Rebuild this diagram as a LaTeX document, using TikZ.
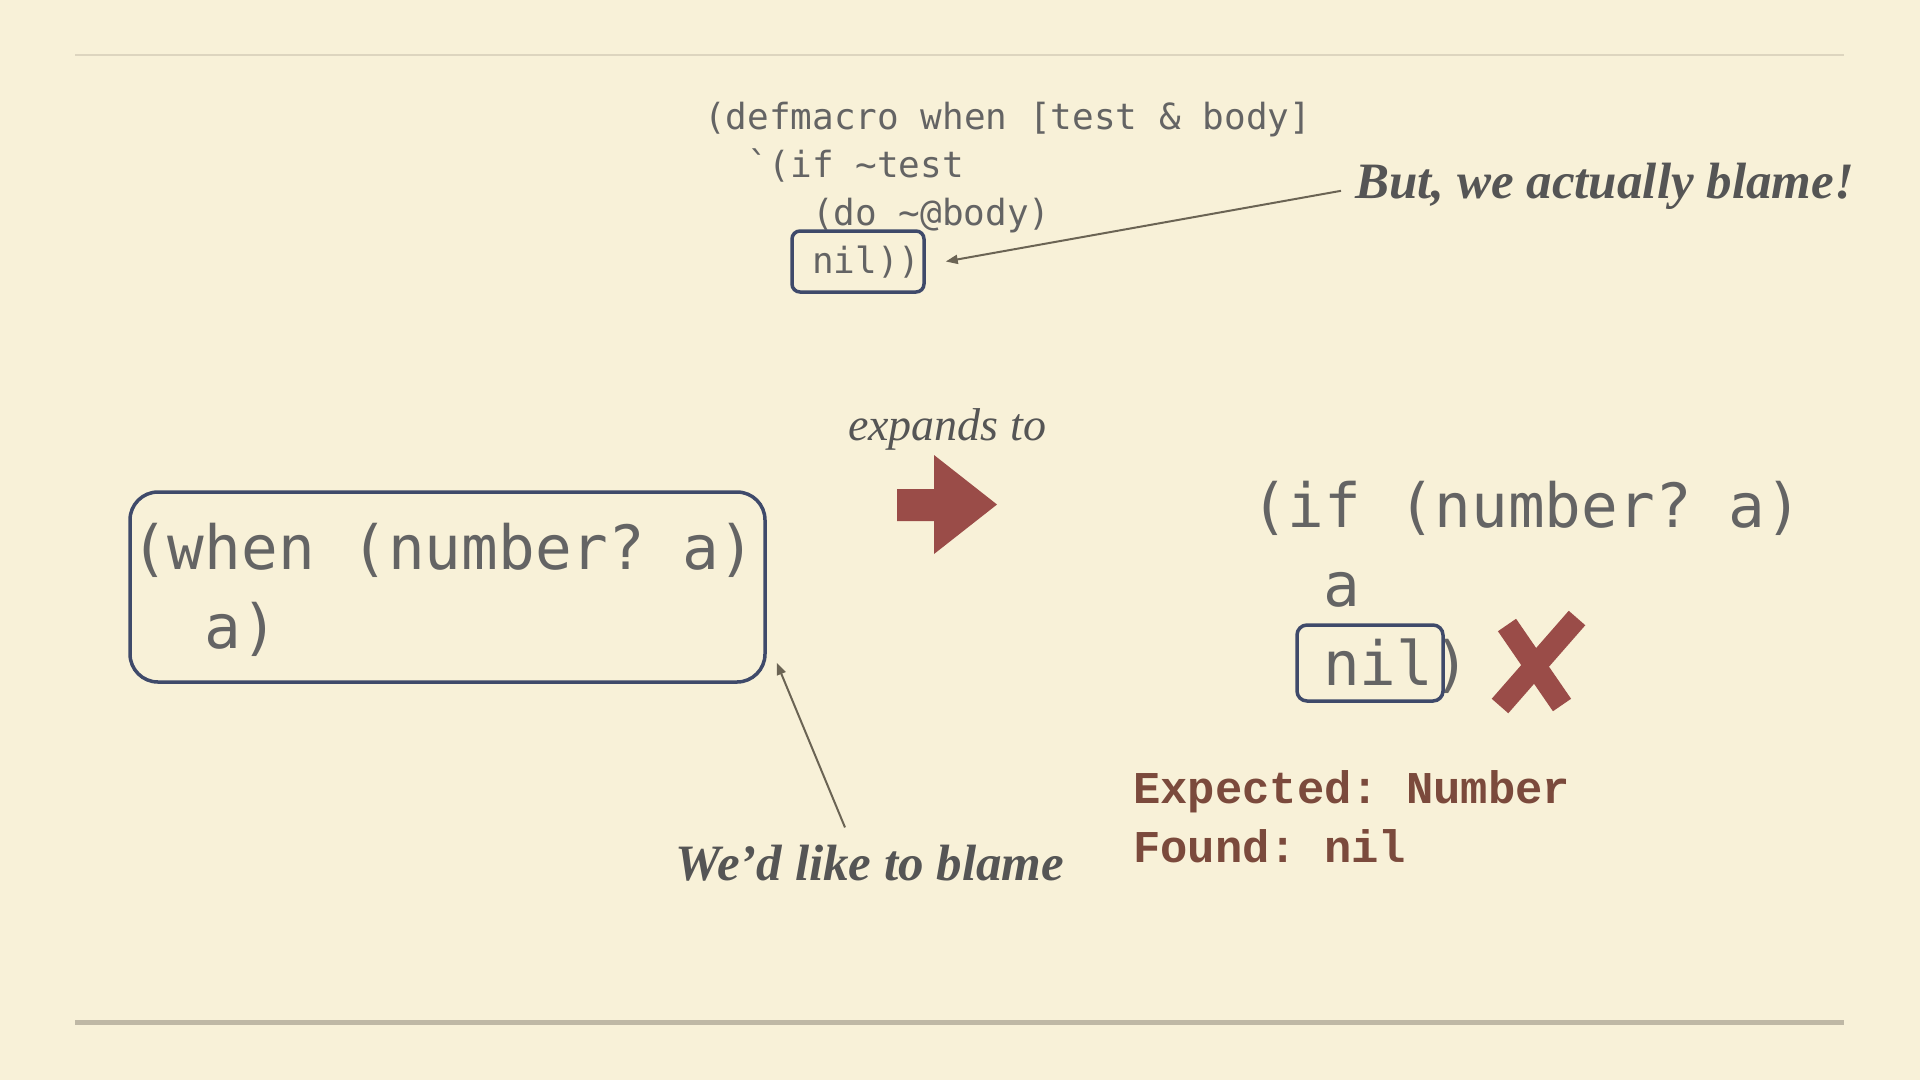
\documentclass[tikz,border=0pt]{standalone}
\usepackage{fontspec}
\usetikzlibrary{arrows.meta}
\setmainfont{Liberation Serif}
\newfontfamily\errfont{Liberation Mono}
\font\codeS="DejaVu Sans Mono" at 36pt
\font\codeL="DejaVu Sans Mono" at 61pt
\frenchspacing
\definecolor{bgc}{HTML}{F8F1D8}
\definecolor{codec}{HTML}{646464}
\definecolor{lblc}{HTML}{555555}
\definecolor{boxc}{HTML}{3F4A6A}
\definecolor{redc}{HTML}{9A4C48}
\definecolor{errc}{HTML}{7B4A3C}
\definecolor{ptrc}{HTML}{6B6454}
\definecolor{toplinec}{HTML}{DDD5BF}
\definecolor{botlinec}{HTML}{BFB8A5}
\tikzset{
  codes/.style={anchor=base west, inner sep=0pt, text=codec, font=\codeS\frenchspacing},
  codel/.style={anchor=base west, inner sep=0pt, text=codec, font=\codeL\frenchspacing},
  hlbox/.style={draw=boxc, line width=3.5pt, rectangle, inner sep=0pt},
  lbl/.style={inner sep=0pt, text=lblc, font=\fontsize{51}{51}\selectfont\bfseries\itshape},
  lblit/.style={inner sep=0pt, text=lblc, font=\fontsize{46}{46}\selectfont\itshape},
  errtxt/.style={anchor=base west, inner sep=0pt, text=errc, font=\errfont\fontsize{45.5}{45.5}\selectfont\bfseries\frenchspacing},
  pointer/.style={draw=ptrc, line width=2pt, -{Triangle[length=12pt,width=9pt]}}
}
\begin{document}
\begin{tikzpicture}[x=1pt,y=-1pt]
\useasboundingbox (0,0) rectangle (1920,1080);
\fill[bgc] (0,0) rectangle (1920,1080);
\draw[toplinec, line width=1.5pt] (75,55) -- (1844,55);
\draw[botlinec, line width=5pt] (75,1022) -- (1844,1022);

% macro definition
\node[codes] (d1) at (704,129) {(defmacro when [test \& body]};
\node[codes] (d2) at (747,177) {`(if \string~test};
\node[codes] (d3) at (812,225) {(do \string~@body)};
\node[codes] (d4) at (812,273) {nil))};
\node[hlbox, minimum width=132, minimum height=61, rounded corners=8pt] (nilbox) at (858,261.5) {};

\node[lbl, anchor=base west] (but) at (1355,198) {But, we actually blame!};
\draw[pointer] ([xshift=-14pt,yshift=-5pt]but.west) -- ([xshift=20pt]nilbox.east);

% left expression
\node[hlbox, minimum width=635, minimum height=190, rounded corners=28pt] (whenbox) at (447.5,587) {};
\node[codel] (w1) at (131,569) {(when (number? a)};
\node[codel] (w2) at (204.4,648) {a)};

\node[lbl, anchor=base] (wed) at (870,880) {We’d like to blame};
\draw[pointer] ([xshift=-25pt,yshift=17pt]wed.north) -- ([xshift=10pt,yshift=21pt]whenbox.south east);

% expands to
\node[lblit, anchor=base] (expands) at (947,440) {expands to};
\fill[redc] (897,489) -- (934,489) -- (934,455) -- (997,504.5) -- (934,554) -- (934,521) -- (897,521) -- cycle;

% right expression
\node[codel] (r1) at (1251,527) {(if (number? a)};
\node[codel] (r2) at (1323,606) {a};
\node[codel] (r3) at (1323,685) {nil)};
\node[hlbox, minimum width=146, minimum height=76, rounded corners=10pt] (nilbox2) at (1370,663) {};

% red cross
\draw[redc, line width=22pt] (1507,625) -- (1562,705);
\draw[redc, line width=22pt] (1577,618) -- (1500,706);

% error message
\node[errtxt] (expected) at (1133,803) {Expected: Number};
\node[errtxt] (found) at (1133,862) {Found: nil};
\end{tikzpicture}
\end{document}
